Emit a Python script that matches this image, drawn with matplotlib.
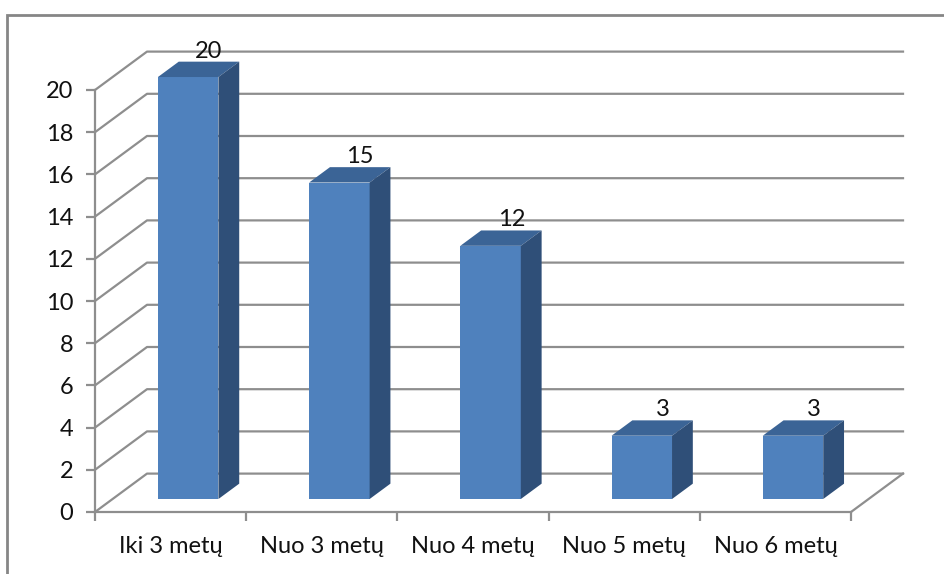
import matplotlib
matplotlib.use("Agg")
import matplotlib.pyplot as plt
from matplotlib.patches import Polygon, Rectangle

plt.rcParams['font.family'] = ['Lato', 'DejaVu Sans']

# duomenys
kategorijos = ['Iki 3 metų', 'Nuo 3 metų', 'Nuo 4 metų', 'Nuo 5 metų', 'Nuo 6 metų']
reiksmes = [20, 15, 12, 3, 3]
y_ticks = list(range(0, 21, 2))

# spalvos
priekis = '#4F81BD'
virsus = '#3B6496'
sonas = '#2F4F78'
tinklelis = '#8E8E8E'

fig = plt.figure(figsize=(9.44, 5.74), dpi=100)
ax = fig.add_axes([95 / 944, 62 / 574, 756 / 944, 422 / 574])
n = len(kategorijos)
ax.set_xlim(0, n)
ax.set_ylim(0, 20)

# 3D gylio poslinkis (duomenu vienetais)
gx = 0.344
gy = 1.82
f0 = 0.338   # stulpelio priekio gylis
fd = 0.40    # stulpelio gylis
plotis = 0.40

# remelis aplink visa diagrama
fig.patches.append(Rectangle((7 / 944, -0.05), 1.0, 1 - 15 / 574 + 0.05,
                             transform=fig.transFigure, fill=False,
                             edgecolor='#868686', linewidth=2))

# grindys ir sienos
for v in y_ticks:
    ax.plot([0, gx, n + gx], [v, v + gy, v + gy], color=tinklelis, lw=1.6,
            clip_on=False, zorder=1)
ax.plot([n, n + gx], [0, gy], color=tinklelis, lw=1.6, clip_on=False, zorder=1)

# stulpeliai
for i, v in enumerate(reiksmes):
    x0 = i + 0.5 - plotis / 2 + f0 * gx
    y0 = f0 * gy
    x1 = x0 + plotis
    dx = fd * gx
    dy = fd * gy
    ax.add_patch(Polygon([(x0, y0), (x1, y0), (x1, y0 + v), (x0, y0 + v)],
                         closed=True, facecolor=priekis, edgecolor='none',
                         clip_on=False, zorder=3))
    ax.add_patch(Polygon([(x0, y0 + v), (x1, y0 + v), (x1 + dx, y0 + v + dy),
                          (x0 + dx, y0 + v + dy)],
                         closed=True, facecolor=virsus, edgecolor='none',
                         clip_on=False, zorder=3))
    ax.add_patch(Polygon([(x1, y0), (x1 + dx, y0 + dy), (x1 + dx, y0 + v + dy),
                          (x1, y0 + v)],
                         closed=True, facecolor=sonas, edgecolor='none',
                         clip_on=False, zorder=3))
    ax.annotate(str(v), (x0 + plotis / 2 + dx, y0 + v + dy), xytext=(0, 0),
                textcoords='offset points', ha='center', va='bottom',
                fontsize=17, color='#111111', zorder=4,
                annotation_clip=False)

# asys
for s in ['top', 'right']:
    ax.spines[s].set_visible(False)
for s in ['left', 'bottom']:
    ax.spines[s].set_color(tinklelis)
    ax.spines[s].set_linewidth(1.6)
    ax.spines[s].set_zorder(2)
ax.set_facecolor('none')

ax.set_yticks(y_ticks)
ax.set_yticklabels([str(t) for t in y_ticks])
ax.tick_params(axis='y', length=6.5, width=1.6, color=tinklelis, labelsize=17,
               pad=9, labelcolor='#111111')

ax.set_xticks([i + 0.5 for i in range(n)])
ax.set_xticklabels(kategorijos)
ax.set_xticks(range(n + 1), minor=True)
ax.tick_params(axis='x', which='major', length=0, labelsize=17, pad=17,
               labelcolor='#111111')
ax.tick_params(axis='x', which='minor', length=6.5, width=1.6, color=tinklelis)

fig.savefig('out.png', dpi=100)
